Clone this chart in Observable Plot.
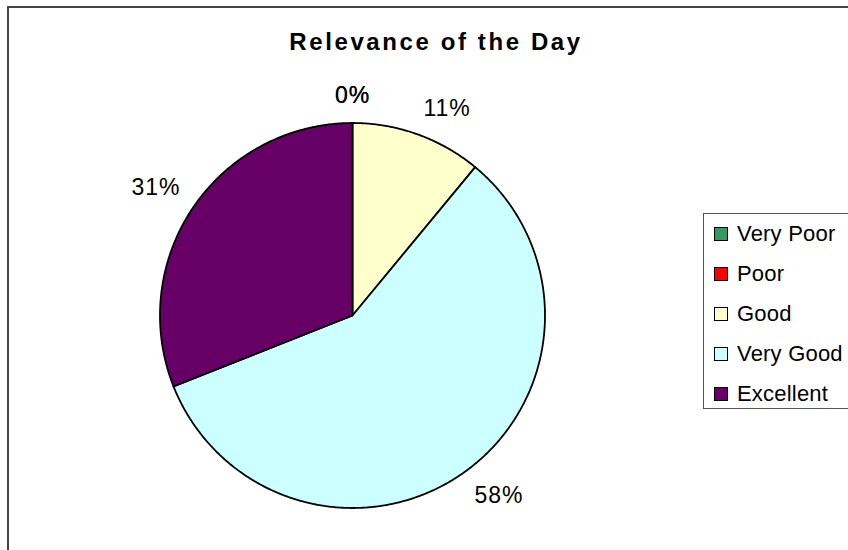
<!DOCTYPE html>
<html>
<head>
<meta charset="utf-8">
<script src="https://cdn.jsdelivr.net/npm/d3@7"></script>
<script src="https://cdn.jsdelivr.net/npm/@observablehq/plot@0.6"></script>
<style>
  html, body { margin: 0; padding: 0; background: #fff; overflow: hidden; }
  #wrap { position: relative; width: 848px; height: 550px; overflow: hidden; font-family: "Liberation Sans", Arial, sans-serif; }
  #frame { position: absolute; left: 7px; top: 6px; width: 900px; height: 600px; border: 2px solid #444; box-sizing: border-box; }
  #title { position: absolute; left: 0; width: 872px; top: 28px; text-align: center; font-weight: bold; font-size: 24px; letter-spacing: 2.6px; color: #000; }
  #chart { position: absolute; left: 0; top: 0; }
  #legend { position: absolute; left: 703px; top: 213px; width: 200px; height: 196px; border: 1px solid #555; box-sizing: border-box; background: #fff; }
  .item { position: absolute; left: 10px; height: 24px; display: flex; align-items: center; font-size: 22px; letter-spacing: 0.2px; color: #000; white-space: nowrap; }
  .sw { width: 12px; height: 12px; border: 1px solid #000; margin-right: 9px; flex: none; }
  #chart text { letter-spacing: 1px; }
</style>
</head>
<body>
<div id="wrap">
  <div id="frame"></div>
  <div id="chart"></div>
  <div id="title"></div>
  <div id="legend"></div>
</div>
<script>
const title = "Relevance of the Day";
const categories = ["Very Poor", "Poor", "Good", "Very Good", "Excellent"];
const percents = [0, 0, 11, 58, 31];
const labels = ["0%", "0%", "11%", "58%", "31%"];
const colors = ["#339966", "#FF0000", "#FFFFCC", "#CCFFFF", "#660066"];

document.getElementById("title").textContent = title;

const arcs = d3.pie().sort(null).value(d => d)(percents);

// polygon points per slice (unit radius, angle clockwise from 12 o'clock)
const slices = arcs.map((a, i) => {
  const pts = [{x: 0, y: 0}];
  const n = Math.max(1, Math.ceil((a.endAngle - a.startAngle) / (Math.PI / 360)));
  for (let k = 0; k <= n; k++) {
    const t = a.startAngle + (a.endAngle - a.startAngle) * k / n;
    pts.push({x: Math.sin(t), y: Math.cos(t)});
  }
  pts.push({x: 0, y: 0});
  return {cat: categories[i], color: colors[i], pts};
});

// label positions: just outside the slice at its mid-angle, shifted by half the text box
const R = 192.5;
const off = 16 / R, halfW = 24 / R, halfH = 11 / R;
const clamp = v => Math.max(-1, Math.min(1, v));
const labelData = arcs.map((a, i) => {
  const m = (a.startAngle + a.endAngle) / 2;
  const s = Math.sin(m), c = Math.cos(m);
  return {
    text: labels[i],
    x: (1 + off) * s + halfW * clamp(s * 3),
    y: (1 + off) * c + halfH * clamp(c * 3)
  };
});

const plot = Plot.plot({
  width: 848,
  height: 550,
  margin: 0,
  x: {domain: [-1, 1], range: [159.5, 544.5], axis: null},
  y: {domain: [-1, 1], range: [507.5, 122.5], axis: null},
  style: {fontFamily: "'Liberation Sans', Arial, sans-serif", background: "transparent"},
  marks: [
    ...slices.map(s => Plot.line(s.pts, {
      x: "x", y: "y", fill: s.color, stroke: "#000", strokeWidth: 1.8,
      strokeLinejoin: "round", curve: "linear"
    })),
    Plot.text(labelData, {x: "x", y: "y", text: "text", fontSize: 23, fill: "#000", textAnchor: "middle", lineAnchor: "middle"})
  ]
});
document.getElementById("chart").appendChild(plot);

// legend
const legend = document.getElementById("legend");
categories.forEach((c, i) => {
  const it = document.createElement("div");
  it.className = "item";
  it.style.top = (8 + i * 40) + "px";
  const sw = document.createElement("div");
  sw.className = "sw";
  sw.style.background = colors[i];
  const tx = document.createElement("span");
  tx.textContent = c;
  it.appendChild(sw);
  it.appendChild(tx);
  legend.appendChild(it);
});
</script>
</body>
</html>
